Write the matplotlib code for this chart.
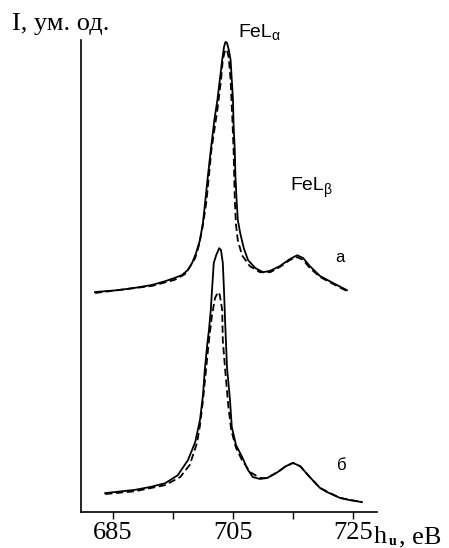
import matplotlib
matplotlib.use("Agg")
import matplotlib.pyplot as plt

# ---- data (energy in eV, intensity in arbitrary units) ----
a_solid_x = [682.0, 685.8, 688.7, 691.5, 693.7, 695.3, 696.5, 697.5, 698.2, 698.8,
             699.5, 700.0, 700.4, 700.8, 701.3, 701.9, 702.4, 702.8, 703.2, 703.5,
             703.75, 704.0, 704.3, 704.6, 704.8, 705.0, 705.1, 705.3, 705.4, 705.6,
             705.8, 706.2, 706.8, 707.5, 708.7, 710.0, 711.2, 712.8, 714.5, 715.7,
             716.7, 717.8, 719.5, 722.0, 724.0]
a_solid_y = [46.6, 47.0, 47.5, 48.1, 48.9, 49.6, 50.2, 51.3, 52.8, 54.7,
             57.6, 61.4, 66.1, 71.0, 76.7, 83.1, 87.3, 91.5, 95.8, 98.5,
             99.6, 99.4, 97.9, 95.8, 91.5, 87.3, 82.0, 76.7, 71.4, 66.1,
             61.9, 59.1, 55.9, 53.4, 51.7, 50.8, 51.1, 52.1, 53.6, 54.4,
             53.8, 52.1, 50.0, 48.3, 47.0]

a_dash_x = [682.0, 691.5, 695.3, 697.0, 697.8, 698.7, 699.3, 700.0, 700.6, 701.4,
            702.4, 703.0, 703.3, 703.7, 704.0, 704.3, 704.6, 704.9, 705.1, 705.3,
            705.5, 705.8, 706.5, 707.8, 709.5, 711.2, 712.8, 714.5, 715.7, 716.7,
            717.8, 719.5, 722.0, 724.0]
a_dash_y = [46.4, 47.9, 49.2, 50.4, 51.9, 53.8, 56.4, 60.8, 66.1, 76.7,
            85.2, 91.5, 95.8, 97.9, 97.9, 96.2, 91.5, 83.1, 76.7, 66.1,
            60.8, 57.6, 54.4, 52.1, 50.8, 50.8, 51.9, 53.4, 54.0, 53.4,
            51.7, 49.8, 48.1, 46.8]

b_solid_x = [683.7, 688.7, 691.2, 693.7, 695.8, 697.5, 698.7, 699.5, 700.0, 700.3,
             700.7, 701.0, 701.3, 701.5, 701.8, 702.2, 702.7, 703.0, 703.3, 703.5,
             703.7, 704.0, 704.5, 704.8, 705.5, 706.5, 707.5, 708.3, 709.5, 710.7,
             712.5, 713.8, 715.0, 716.2, 717.8, 719.5, 720.7, 722.8, 724.5, 726.5]
b_solid_y = [4.0, 4.7, 5.3, 6.1, 7.8, 11.0, 14.8, 19.5, 24.8, 30.1,
             35.4, 38.6, 42.8, 47.0, 52.8, 54.4, 55.9, 55.5, 52.8, 47.0,
             40.0, 30.7, 23.7, 18.0, 14.2, 11.7, 8.9, 7.4, 7.0, 7.2,
             8.5, 9.7, 10.4, 9.7, 7.4, 5.1, 4.2, 3.0, 2.5, 2.1]

b_dash_x = [683.7, 688.7, 693.7, 696.2, 697.8, 699.0, 699.5, 700.0, 700.5, 701.0,
            701.5, 702.0, 702.5, 702.8, 703.2, 703.3, 703.7, 704.2, 704.7, 705.5,
            706.5, 707.8, 709.5, 710.7, 712.5, 713.8, 715.0, 716.2, 717.8, 719.5,
            722.8, 726.5]
b_dash_y = [3.8, 4.4, 5.7, 7.4, 10.0, 14.6, 18.4, 23.7, 30.1, 36.4,
            41.7, 45.3, 46.6, 46.0, 42.8, 36.4, 30.1, 22.7, 17.4, 13.6,
            11.0, 8.5, 7.2, 7.2, 8.5, 9.7, 10.4, 9.7, 7.4, 5.1,
            3.0, 2.1]

tick_positions = [685, 695, 705, 715, 725]
tick_labels = ["685", "", "705", "", "725"]

W, H = 449, 548
fig = plt.figure(figsize=(W / 100, H / 100), dpi=100)
ax = fig.add_axes([81 / W, 36 / H, 296 / W, 472 / H])

lw = 1.3
ax.plot(a_solid_x, a_solid_y, color="black", lw=lw, solid_joinstyle="round")
ax.plot(a_dash_x, a_dash_y, color="black", lw=lw, dashes=(4, 2))
ax.plot(b_solid_x, b_solid_y, color="black", lw=lw, solid_joinstyle="round")
ax.plot(b_dash_x, b_dash_y, color="black", lw=lw, dashes=(4, 2))

ax.set_xlim(679.67, 729.0)
ax.set_ylim(0, 100)
for s in ["top", "right"]:
    ax.spines[s].set_visible(False)
for s in ["left", "bottom"]:
    ax.spines[s].set_linewidth(1.2)
ax.set_yticks([])
ax.set_xticks(tick_positions)
ax.set_xticklabels(tick_labels, fontfamily="Liberation Serif", fontsize=19)
ax.tick_params(axis="x", direction="out", length=5, width=1.0, pad=2)

serif = "Liberation Serif"
sans = "Liberation Sans"
fig.text(12 / W, 1 - 30 / H, "I, ум. од.", fontfamily=serif, fontsize=19,
         va="baseline", ha="left")
fig.text(374 / W, 1 - 543 / H, "h", fontfamily=serif, fontsize=19,
         va="baseline", ha="left")
fig.text(389 / W, 1 - 545 / H, "u", fontfamily=serif, fontsize=10,
         fontweight="bold", va="baseline", ha="left")
fig.text(399 / W, 1 - 543 / H, ", еВ", fontfamily=serif, fontsize=19,
         va="baseline", ha="left")

fig.text(238 / W, 1 - 37 / H, "FeL", fontfamily=sans, fontsize=14,
         va="baseline", ha="left")
fig.text(271 / W, 1 - 40 / H, "α", fontfamily=sans, fontsize=10,
         va="baseline", ha="left")
fig.text(290 / W, 1 - 190 / H, "FeL", fontfamily=sans, fontsize=14,
         va="baseline", ha="left")
fig.text(324 / W, 1 - 194 / H, "β", fontfamily=sans, fontsize=10,
         va="baseline", ha="left")

fig.text(335 / W, 1 - 262 / H, "а", fontfamily=sans, fontsize=12,
         va="baseline", ha="left")
fig.text(337 / W, 1 - 470 / H, "б", fontfamily=sans, fontsize=12,
         va="baseline", ha="left")

fig.savefig("out.png", dpi=100)
